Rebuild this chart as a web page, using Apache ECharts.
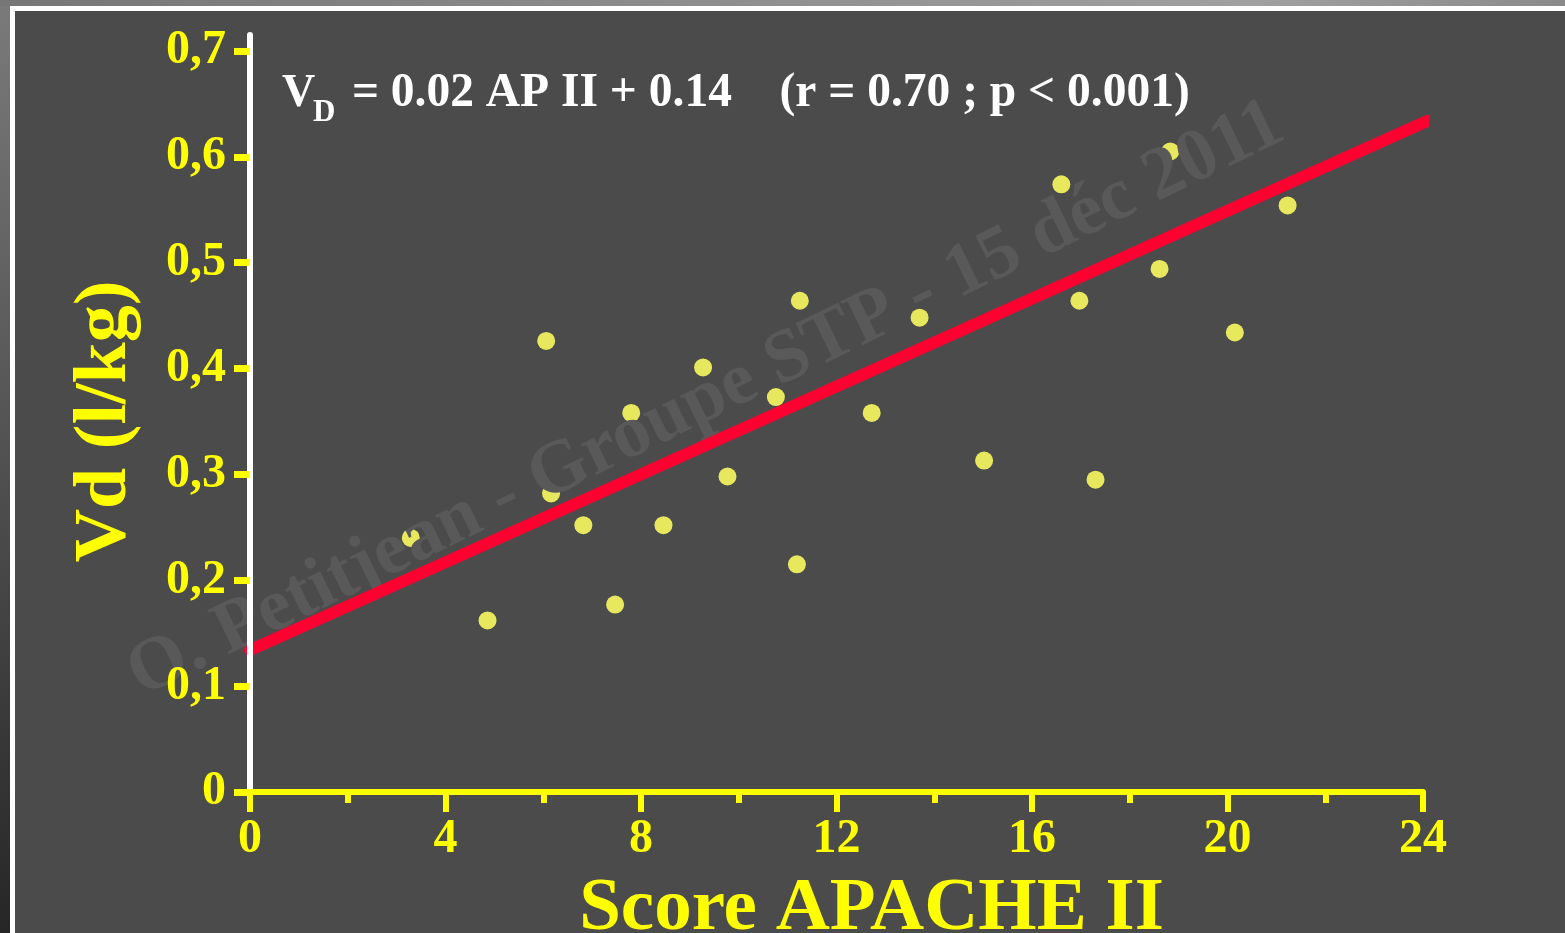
<!DOCTYPE html>
<html>
<head>
<meta charset="utf-8">
<script src="https://cdn.jsdelivr.net/npm/echarts@6/dist/echarts.min.js"></script>
<style>
html,body{margin:0;padding:0;background:#4b4b4b;}
#chart{width:1565px;height:933px;}
</style>
</head>
<body>
<div id="chart"></div>
<script>
// ---- data ----
const apacheScores = [3.29, 4.86, 6.06, 6.16, 6.82, 7.47, 7.80, 8.46, 9.27, 9.77, 10.76, 11.19,
                      11.25, 12.72, 13.70, 15.02, 16.60, 16.97, 17.30, 18.61, 18.83, 20.15, 21.23];
const vdValues     = [0.240, 0.162, 0.426, 0.282, 0.252, 0.177, 0.358, 0.252, 0.401, 0.298, 0.373, 0.215,
                      0.464, 0.358, 0.448, 0.313, 0.574, 0.464, 0.295, 0.494, 0.605, 0.434, 0.554];
const fitX = [0, 24.1];
const fitY = [0.134, 0.634];
const yTicks = [0, 0.1, 0.2, 0.3, 0.4, 0.5, 0.6, 0.7];
const xTicks = [0, 4, 8, 12, 16, 20, 24];
const equationMain = 'V';
const equationSub = 'D';
const equationRest = ' = 0.02 AP II + 0.14    (r = 0.70 ; p < 0.001)';
const watermarkText = 'O. Petitjean - Groupe STP - 15 déc 2011';
const xName = 'Score APACHE II';
const yName = 'Vd (l/kg)';

const FONT = '"Liberation Serif", "Times New Roman", serif';
const YEL = '#ffff00';

const scatterData = apacheScores.map((x, i) => [x, vdValues[i]]);
const fitData = fitX.map((x, i) => [x, fitY[i]]);

const chart = echarts.init(document.getElementById('chart'), null, {renderer: 'canvas'});
chart.setOption({
  backgroundColor: '#4b4b4b',
  animation: false,
  grid: {left: 250, right: 142, top: 35, bottom: 141, containLabel: false, outerBoundsMode: 'none'},
  xAxis: {
    type: 'value', min: 0, max: 24, interval: 4, z: 5,
    axisLine: {show: true, lineStyle: {color: YEL, width: 6}},
    axisTick: {show: true, length: 20, lineStyle: {color: YEL, width: 6}},
    minorTick: {show: true, splitNumber: 2, length: 11, lineStyle: {color: YEL, width: 6}},
    splitLine: {show: false},
    axisLabel: {
      customValues: xTicks,
      color: YEL, fontFamily: FONT, fontWeight: 'bold', fontSize: 48, margin: 24
    },
    name: xName, nameLocation: 'middle', nameGap: 80,
    nameTextStyle: {color: YEL, fontFamily: FONT, fontWeight: 'bold', fontSize: 75, padding: [0, 0, 0, 70]}
  },
  yAxis: {
    type: 'value', min: 0, max: 0.715, interval: 0.1, z: 4,
    axisLine: {show: true, lineStyle: {color: '#ffffff', width: 6}},
    axisTick: {show: true, customValues: yTicks, length: 16, lineStyle: {color: YEL, width: 7}},
    splitLine: {show: false},
    axisLabel: {
      customValues: yTicks,
      color: YEL, fontFamily: FONT, fontWeight: 'bold', fontSize: 48, margin: 24,
      formatter: v => v === 0 ? '0' : v.toFixed(1).replace('.', ',')
    },
    name: yName, nameLocation: 'middle', nameGap: 107, nameRotate: 90,
    nameTextStyle: {color: YEL, fontFamily: FONT, fontWeight: 'bold', fontSize: 74, padding: [0, 16, 0, 0]}
  },
  graphic: [
    {type: 'rect', z: 0, silent: true, shape: {x: 0, y: 0, width: 1565, height: 6},
     style: {fill: new echarts.graphic.LinearGradient(0, 0, 1, 0, [
       {offset: 0, color: '#767676'}, {offset: 0.8, color: '#a0a0a0'}, {offset: 1, color: '#8a8a8a'}])}},
    {type: 'rect', z: 0, silent: true, shape: {x: 0, y: 6, width: 10, height: 927},
     style: {fill: new echarts.graphic.LinearGradient(0, 0, 0, 1, [
       {offset: 0, color: '#7a7a7a'}, {offset: 1, color: '#262626'}])}},
    {type: 'rect', z: 0, silent: true, shape: {x: 10, y: 6, width: 1555, height: 5}, style: {fill: '#ffffff'}},
    {type: 'rect', z: 0, silent: true, shape: {x: 10, y: 6, width: 5, height: 927}, style: {fill: '#ffffff'}},
    {type: 'text', z: 2.5, silent: true, x: 706, y: 400, rotation: 26 * Math.PI / 180,
     style: {text: watermarkText, fill: '#595959', font: 'bold 75px ' + FONT, align: 'center', verticalAlign: 'middle'}},
    {type: 'text', z: 6, silent: true, x: 282, y: 94,
     style: {text: equationMain, fill: '#ffffff', font: 'bold 46px ' + FONT, align: 'left', verticalAlign: 'middle'}},
    {type: 'text', z: 6, silent: true, x: 313, y: 113,
     style: {text: equationSub, fill: '#ffffff', font: 'bold 31px ' + FONT, align: 'left', verticalAlign: 'middle'}},
    {type: 'text', z: 6, silent: true, x: 340, y: 94,
     style: {text: equationRest, fill: '#ffffff', font: 'bold 47.5px ' + FONT, align: 'left', verticalAlign: 'middle'}}
  ],
  series: [
    {
      type: 'scatter', z: 2, data: scatterData, symbol: 'circle', symbolSize: 18,
      itemStyle: {color: '#e8e85e', opacity: 1}, silent: true
    },
    {
      type: 'line', z: 3, data: fitData, showSymbol: false, symbol: 'none', clip: false, silent: true,
      lineStyle: {color: '#ff0030', width: 12, cap: 'round'}
    }
  ]
});
</script>
</body>
</html>
